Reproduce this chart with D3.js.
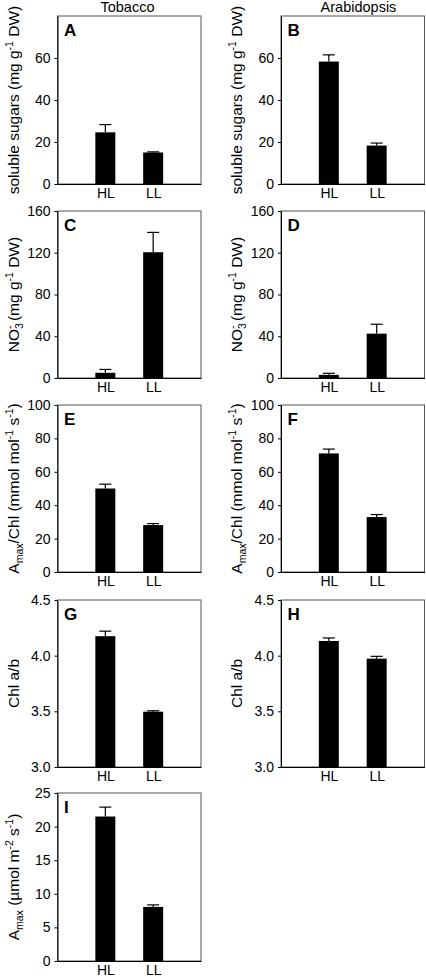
<!DOCTYPE html>
<html><head><meta charset="utf-8">
<script src="https://cdn.jsdelivr.net/npm/d3@7"></script>
<style>html,body{margin:0;padding:0;background:#fff}svg{display:block}</style>
</head><body>
<svg id="chart" width="426" height="977"></svg>
<script>
// ---- data ----
const categories = ["HL", "LL"];
const columnTitles = ["Tobacco", "Arabidopsis"];

const sugarsTobacco = [24.6, 15.0];
const sugarsTobaccoErr = [3.7, 0.3];
const sugarsArabidopsis = [58.3, 18.3];
const sugarsArabidopsisErr = [3.2, 1.2];

const nitrateTobacco = [5.0, 120.5];
const nitrateTobaccoErr = [3.2, 19.0];
const nitrateArabidopsis = [3.0, 42.5];
const nitrateArabidopsisErr = [1.5, 9.0];

const amaxChlTobacco = [50.0, 28.1];
const amaxChlTobaccoErr = [2.6, 0.9];
const amaxChlArabidopsis = [71.0, 32.9];
const amaxChlArabidopsisErr = [2.6, 1.5];

const chlABTobacco = [4.175, 3.497];
const chlABTobaccoErr = [0.045, 0.008];
const chlABArabidopsis = [4.132, 3.973];
const chlABArabidopsisErr = [0.027, 0.021];

const amaxTobacco = [21.5, 8.05];
const amaxTobaccoErr = [1.4, 0.3];

const ticksSugars = [0, 20, 40, 60];
const ticksNitrate = [0, 40, 80, 120, 160];
const ticksAmaxChl = [0, 20, 40, 60, 80, 100];
const ticksChlAB = [3.0, 3.5, 4.0, 4.5];
const ticksAmax = [0, 5, 10, 15, 20, 25];

const labelSugars = [["soluble sugars (mg g", ""], ["-1", "sup"], [" DW)", ""]];
const labelNitrate = [["NO", ""], ["3", "sub"], ["-", "over"], [" (mg g", ""], ["-1", "sup"], [" DW)", ""]];
const labelAmaxChl = [["A", ""], ["max", "sub"], ["/Chl (mmol mol", ""], ["-1", "sup"], [" s", ""], ["-1", "sup"], [")", ""]];
const labelChlAB = [["Chl a/b", ""]];
const labelAmax = [["A", ""], ["max", "sub"], [" (\u00b5mol m", ""], ["-2", "sup"], [" s", ""], ["-1", "sup"], [")", ""]];

// ---- layout ----
const FONT = "'Liberation Sans', Arial, Helvetica, sans-serif";
const colLeft = [57.5, 281];
const plotW = 143.5;
const rowTop = [16, 211, 405, 600, 793];
const rowBottom = [184, 378, 572, 767, 961];

const panels = [
  {id: "A", col: 0, row: 0, values: sugarsTobacco, err: sugarsTobaccoErr, domain: [0, 80], ticks: ticksSugars, fmt: "d", label: labelSugars},
  {id: "B", col: 1, row: 0, values: sugarsArabidopsis, err: sugarsArabidopsisErr, domain: [0, 80], ticks: ticksSugars, fmt: "d", label: labelSugars},
  {id: "C", col: 0, row: 1, values: nitrateTobacco, err: nitrateTobaccoErr, domain: [0, 160], ticks: ticksNitrate, fmt: "d", label: labelNitrate},
  {id: "D", col: 1, row: 1, values: nitrateArabidopsis, err: nitrateArabidopsisErr, domain: [0, 160], ticks: ticksNitrate, fmt: "d", label: labelNitrate},
  {id: "E", col: 0, row: 2, values: amaxChlTobacco, err: amaxChlTobaccoErr, domain: [0, 100], ticks: ticksAmaxChl, fmt: "d", label: labelAmaxChl},
  {id: "F", col: 1, row: 2, values: amaxChlArabidopsis, err: amaxChlArabidopsisErr, domain: [0, 100], ticks: ticksAmaxChl, fmt: "d", label: labelAmaxChl},
  {id: "G", col: 0, row: 3, values: chlABTobacco, err: chlABTobaccoErr, domain: [3, 4.5], ticks: ticksChlAB, fmt: ".1f", label: labelChlAB},
  {id: "H", col: 1, row: 3, values: chlABArabidopsis, err: chlABArabidopsisErr, domain: [3, 4.5], ticks: ticksChlAB, fmt: ".1f", label: labelChlAB},
  {id: "I", col: 0, row: 4, values: amaxTobacco, err: amaxTobaccoErr, domain: [0, 25], ticks: ticksAmax, fmt: "d", label: labelAmax}
];

const svg = d3.select("#chart");

// column titles
const titleX = [127.5, 358.5];
columnTitles.forEach((t, i) => {
  svg.append("text").attr("x", titleX[i]).attr("y", 12)
    .attr("text-anchor", "middle").attr("font-family", FONT).attr("font-size", 14.5)
    .attr("fill", "#000").text(t);
});

function drawLabel(g, segs, cx, baseX) {
  const t = g.append("text")
    .attr("transform", `translate(${baseX},${cx}) rotate(-90)`)
    .attr("text-anchor", "middle").attr("font-family", FONT).attr("font-size", 15.5).attr("fill", "#000");
  let cur = 0;
  segs.forEach(([txt, type]) => {
    const sp = t.append("tspan").text(txt);
    let target = 0, size = 15.5, dx = 0;
    if (type === "sup") { target = -6; size = 10.5; }
    else if (type === "sub") { target = 4; size = 10.5; }
    else if (type === "over") { target = -6; size = 10.5; dx = -5.8; }
    sp.attr("font-size", size).attr("dy", target - cur);
    if (dx) sp.attr("dx", dx);
    cur = target;
  });
}

panels.forEach(p => {
  const left = colLeft[p.col], right = left + plotW;
  const top = rowTop[p.row], bottom = rowBottom[p.row];
  const g = svg.append("g");

  const x = d3.scalePoint().domain(categories).range([left, right]).padding(1);
  const y = d3.scaleLinear().domain(p.domain).range([bottom, top]);

  // frame
  g.append("rect").attr("x", left).attr("y", top).attr("width", right - left).attr("height", bottom - top)
    .attr("fill", "none").attr("stroke", "#555").attr("stroke-width", 1);

  // bars
  const barW = 20;
  g.selectAll("rect.bar").data(categories).join("rect").attr("class", "bar")
    .attr("x", d => x(d) - barW / 2).attr("width", barW)
    .attr("y", (d, i) => y(p.values[i])).attr("height", (d, i) => bottom - y(p.values[i]))
    .attr("fill", "#000");

  // error bars
  const capW = 12;
  categories.forEach((c, i) => {
    const yt = y(p.values[i] + p.err[i]), yb = y(p.values[i]);
    g.append("line").attr("x1", x(c)).attr("x2", x(c)).attr("y1", yb).attr("y2", yt)
      .attr("stroke", "#000").attr("stroke-width", 1.2);
    g.append("line").attr("x1", x(c) - capW / 2).attr("x2", x(c) + capW / 2).attr("y1", yt).attr("y2", yt)
      .attr("stroke", "#000").attr("stroke-width", 1.2);
  });

  // y axis
  const ya = g.append("g").attr("transform", `translate(${left},0)`)
    .call(d3.axisLeft(y).tickValues(p.ticks).tickSize(3).tickSizeOuter(0).tickPadding(4).tickFormat(d3.format(p.fmt)));
  ya.select(".domain").attr("stroke", "#000");
  ya.selectAll("line").attr("stroke", "#000");
  ya.selectAll("text").attr("font-family", FONT).attr("font-size", 14).attr("fill", "#000");

  // x axis
  const xa = g.append("g").attr("transform", `translate(0,${bottom})`)
    .call(d3.axisBottom(x).tickSize(0).tickSizeOuter(0).tickPadding(4.5));
  xa.select(".domain").attr("stroke", "#000");
  xa.selectAll("text").attr("font-family", FONT).attr("font-size", 14).attr("fill", "#000");

  // panel letter
  g.append("text").attr("x", left + 6.5).attr("y", top + 20)
    .attr("font-family", FONT).attr("font-weight", "bold").attr("font-size", 17).attr("fill", "#000").text(p.id);

  // y label
  drawLabel(g, p.label, (top + bottom) / 2, left - 39);
});
</script>
</body></html>
